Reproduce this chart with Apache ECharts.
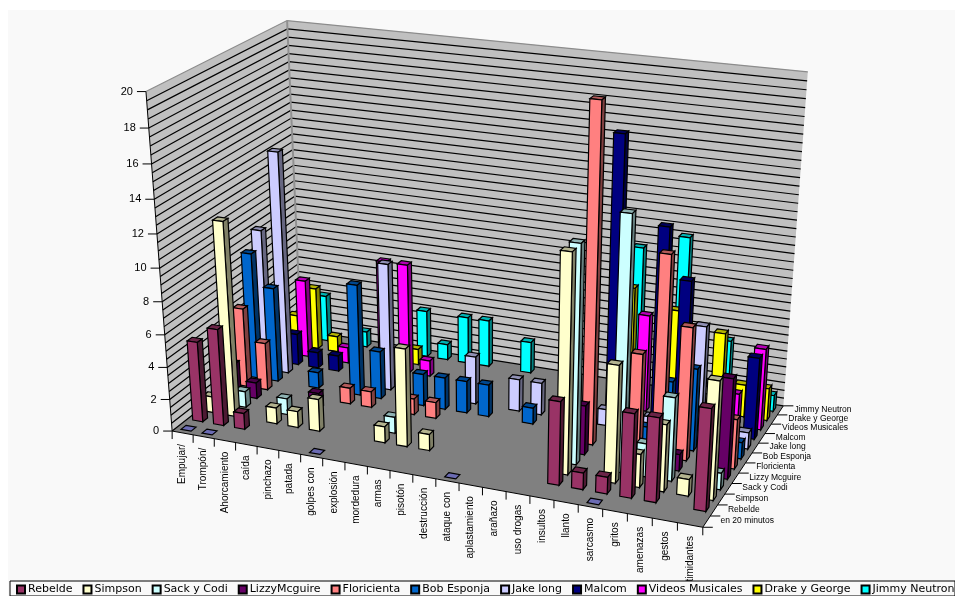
<!DOCTYPE html>
<html><head><meta charset="utf-8">
<style>html,body{margin:0;padding:0;background:#fff;width:955px;height:596px;overflow:hidden}
#bg{position:absolute;left:8px;top:10px;right:0;bottom:0;background:#f9f9f9}
#c{position:absolute;left:0;top:0;width:955px;height:596px}</style>
<script src="https://cdn.jsdelivr.net/npm/echarts@6/dist/echarts.min.js"></script>
</head><body><div id="bg"></div><div id="c"></div>
<script>
var categories = ['Empujar/','Trompón/','Ahorcamiento','caída','pinchazo','patada','golpes con','explosión','mordedura','armas','pisotón','destrucción','ataque con','aplastamiento','arañazo','uso drogas','insultos','llanto','sarcasmo','gritos','amenazas','gestos','intimidantes'];
var seriesNames = ['en 20 minutos','Rebelde','Simpson','Sack y Codi','LizzyMcguire','Floricienta','Bob Esponja','Jake long','Malcom','Videos Musicales','Drake y George','Jimmy Neutron'];
var depthLabels = ['en 20 minutos','Rebelde','Simpson','Sack y Codi','Lizzy Mcguire','Floricienta','Bob Esponja','Jake long','Malcom','Videos Musicales','Drake y George','Jimmy Neutron'];
var colors = ['#9999ff','#993366','#ffffcc','#ccffff','#660066','#ff8080','#0066cc','#ccccff','#000080','#ff00ff','#ffff00','#00ffff'];
var yTickLabels = [0,2,4,6,8,10,12,14,16,18,20];
//            0    1    2    3    4    5    6    7    8    9    10   11   12   13   14   15   16   17   18   19   20   21   22
var en20 =   [0,   0,   null,null,null,null,0,   null,null,null,null,null,0,   null,null,null,null,null,0,   null,null,null,null];
var rebelde =[5,   6,   1,   null,null,null,null,null,null,null,null,null,null,null,null,null,5,   1,   1,   5,   5,   null,6];
var simpson =[1,   12,  null,1,   1,   2,   null,null,1,   6,   1,   null,null,null,null,null,13,  null,7,   2,   4,   1,   7];
var sack =   [null,1,   null,1,   null,null,null,null,1,   null,null,null,null,null,null,null,13,  null,15,  2,   5,   null,1];
var lizzy =  [2,   1,   null,null,1,   null,null,null,null,null,null,null,null,null,null,null,3,   null,null,null,1,   null,6];
var flori =  [5,   3,   null,null,null,1,   1,   null,1,   1,   null,null,null,null,null,null,20,  null,6,   12,  8,   null,3];
var bob =    [8,   6,   null,1,   null,7,   3,   null,2,   2,   2,   2,   null,1,   null,null,null,null,1,   4,   5,   null,1];
var jake =   [9,   14,  null,null,null,null,8,   null,null,null,3,   null,2,   2,   null,null,1,   null,1,   null,7,   null,1];
var malcom = [null,2,   1,   1,   null,null,null,null,null,null,null,null,null,null,null,null,17,  null,12,  9,   null,null,5];
var videos = [null,5,   null,1,   null,7,   7,   1,   null,null,null,null,null,null,null,null,null,6,   null,null,null,2,   5];
var drake =  [2,   4,   1,   null,null,null,1,   null,null,null,null,null,null,null,null,null,7,   null,6,   null,5,   2,   2];
var jimmy =  [null,3,   null,1,   null,null,3,   1,   3,   3,   null,2,   null,null,null,null,9,   null,10,  null,4,   null,1];
var seriesValues = [en20,rebelde,simpson,sack,lizzy,flori,bob,jake,malcom,videos,drake,jimmy];

// frame corners of the 3D box: [u,v,w] -> screen
var frame = [[0,0,0,171,430],[1,0,0,703,528],[0,1,0,302,331],[1,1,0,783,405],[0,0,1,147,92],[0,1,1,286,20],[1,1,1,808,72]];
function solveCamera(pts){
  var A=[],b=[];
  pts.forEach(function(p){var u=p[0],v=p[1],w=p[2],x=p[3],y=p[4];
    A.push([u,v,w,1,0,0,0,0,-x*u,-x*v,-x*w]);b.push(x);
    A.push([0,0,0,0,u,v,w,1,-y*u,-y*v,-y*w]);b.push(y);});
  var n=11,M=[];
  for(var i=0;i<n;i++){M[i]=[];for(var j=0;j<=n;j++){var s=0;for(var k=0;k<A.length;k++)s+=A[k][i]*(j<n?A[k][j]:b[k]);M[i][j]=s;}}
  for(i=0;i<n;i++){var m=i;for(k=i+1;k<n;k++)if(Math.abs(M[k][i])>Math.abs(M[m][i]))m=k;var t=M[i];M[i]=M[m];M[m]=t;
    for(k=i+1;k<n;k++){var f=M[k][i]/M[i][i];for(j=i;j<=n;j++)M[k][j]-=f*M[i][j];}}
  var h=[];for(i=n-1;i>=0;i--){s=M[i][n];for(j=i+1;j<n;j++)s-=M[i][j]*h[j];h[i]=s/M[i][i];}
  return h;
}
var H = solveCamera(frame);
function P(u,v,w){var d=H[8]*u+H[9]*v+H[10]*w+1;
  return [(H[0]*u+H[1]*v+H[2]*w+H[3])/d,(H[4]*u+H[5]*v+H[6]*w+H[7])/d];}
function shade(hex,f){var n=parseInt(hex.slice(1),16);
  return 'rgb('+[n>>16,(n>>8)&255,n&255].map(function(c){return Math.round(c*f);}).join(',')+')';}
var nC=categories.length,nS=seriesNames.length,halfU=0.24/nC,halfV=0.21/nS;

function toUW(params,api,cat,val){var r=params.coordSys,p=api.coord([cat,val]);
  return [(p[0]-r.x)/r.width,1-(p[1]-r.y)/r.height];}

function poly(pts,fill,stroke,lw){return {type:'polygon',shape:{points:pts},silent:true,
  style:{fill:fill,stroke:stroke||null,lineWidth:lw||0,lineJoin:'miter'}};}

function barRender(s){return function(params,api){
  var cat=api.value(0),val=api.value(1);
  var uw=toUW(params,api,cat,val),u=uw[0],w=uw[1],v=(s+0.5)/nS;
  var a=u-halfU,b=u+halfU,f=v-halfV,k=v+halfV,col=colors[s];
  var ch=[];
  ch.push(poly([P(a,k,w),P(b,k,w),P(b,f,w),P(a,f,w)],shade(col,0.7),'#000',1.2));
  if(w>0){
    ch.push(poly([P(b,f,0),P(b,k,0),P(b,k,w),P(b,f,w)],shade(col,0.5),'#000',1.2));
    ch.push(poly([P(a,f,0),P(b,f,0),P(b,f,w),P(a,f,w)],col,'#000',1.2));
  }
  return {type:'group',children:ch};
};}

function frameRender(params,api){
  var ch=[],i;
  ch.push(poly([P(0,0,0),P(0,1,0),P(0,1,1),P(0,0,1)],'#c0c0c0'));
  ch.push(poly([P(0,1,0),P(1,1,0),P(1,1,1),P(0,1,1)],'#c0c0c0'));
  ch.push(poly([P(0,0,0),P(1,0,0),P(1,1,0),P(0,1,0)],'#808080'));
  for(var g=0;g<=40;g++){
    var wv=toUW(params,api,0,g*0.5)[1],c=g===40?'#8c8c8c':'#000';
    ch.push({type:'polyline',silent:true,shape:{points:[P(0,0,wv),P(0,1,wv),P(1,1,wv)]},style:{stroke:c,lineWidth:1.2,fill:null}});
  }
  ch.push({type:'line',silent:true,shape:{x1:P(0,1,0)[0],y1:P(0,1,0)[1],x2:P(0,1,1)[0],y2:P(0,1,1)[1]},style:{stroke:'#909090',lineWidth:2}});
  // value axis
  ch.push({type:'polyline',silent:true,shape:{points:[P(0,0,0),P(0,0,1)]},style:{stroke:'#000',lineWidth:1,fill:null}});
  yTickLabels.forEach(function(t){var wv=toUW(params,api,0,t)[1],p=P(0,0,wv);
    ch.push({type:'line',silent:true,shape:{x1:p[0]-9,y1:p[1],x2:p[0],y2:p[1]},style:{stroke:'#000',lineWidth:1}});
    ch.push({type:'text',silent:true,x:p[0]-13,y:p[1],style:{text:String(t),align:'right',verticalAlign:'middle',font:'11px "Liberation Sans"',fill:'#000'}});
  });
  // category axis
  ch.push({type:'polyline',silent:true,shape:{points:[P(0,0,0),P(1,0,0),P(1,1,0)]},style:{stroke:'#000',lineWidth:1,fill:null}});
  for(i=0;i<=nC;i++){var q=P(i/nC,0,0);
    ch.push({type:'line',silent:true,shape:{x1:q[0],y1:q[1],x2:q[0],y2:q[1]+8},style:{stroke:'#000',lineWidth:1}});}
  categories.forEach(function(t,c){var q=P(toUW(params,api,c,0)[0],0,0);
    ch.push({type:'text',silent:true,x:q[0],y:q[1]+11,rotation:Math.PI/2,style:{text:t,align:'right',verticalAlign:'middle',font:'10px "Liberation Sans"',fill:'#000'}});
  });
  // depth axis
  for(i=0;i<=nS;i++){var r=P(1,i/nS,0);
    ch.push({type:'line',silent:true,shape:{x1:r[0],y1:r[1],x2:r[0]+10,y2:r[1]},style:{stroke:'#000',lineWidth:1}});}
  depthLabels.forEach(function(t,s){var r=P(1,(s+0.5)/nS,0);
    ch.push({type:'text',silent:true,x:r[0]+14,y:r[1]-1,style:{text:t,align:'left',verticalAlign:'middle',font:'8.5px "Liberation Sans"',fill:'#000'}});
  });
  return {type:'group',children:ch};
}

var series=[{type:'custom',name:'frame',coordinateSystem:'cartesian2d',z:1,silent:true,clip:false,
  data:[[0,0]],encode:{x:0,y:1},renderItem:frameRender,animation:false}];
seriesNames.forEach(function(name,s){
  var d=[];seriesValues[s].forEach(function(val,c){if(val!==null)d.push([c,val]);});
  series.push({type:'custom',name:name,coordinateSystem:'cartesian2d',z:20-s,clip:false,silent:true,
    itemStyle:{color:colors[s],borderColor:'#000',borderWidth:1},
    data:d,encode:{x:0,y:1},renderItem:barRender(s),animation:false});
});
var chart=echarts.init(document.getElementById('c'));
chart.setOption({animation:false,backgroundColor:'transparent',
  grid:{left:0,right:0,top:0,bottom:0},
  xAxis:{type:'category',data:categories,show:false},
  yAxis:{type:'value',min:0,max:20,interval:2,show:false},
  legend:{data:seriesNames.slice(1),left:16,top:584,z:200,itemWidth:8,itemHeight:8,itemGap:10,icon:'rect',padding:0,selectedMode:false,
    textStyle:{fontFamily:'DejaVu Sans',fontSize:11,color:'#000',padding:[0,0,0,-2]}},
  graphic:[{type:'rect',z:100,shape:{x:10,y:581,width:945,height:15},style:{fill:'#f9f9f9',stroke:'#000',lineWidth:1},silent:true}],
  series:series});
</script></body></html>
